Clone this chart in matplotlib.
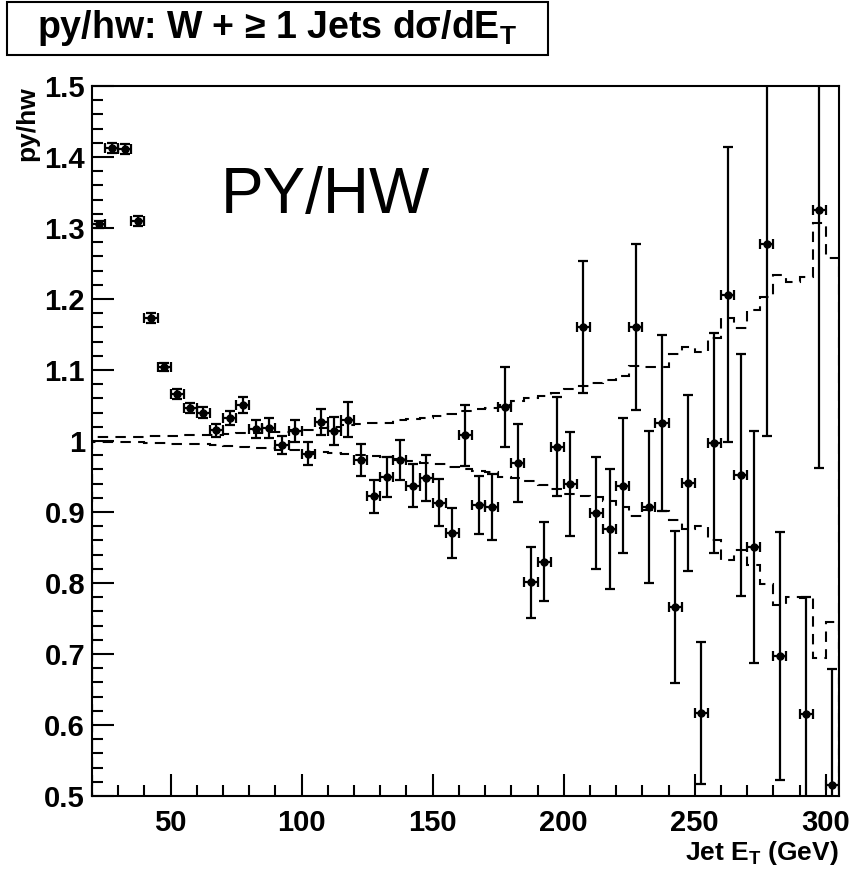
import numpy as np
import matplotlib.pyplot as plt
from matplotlib.patches import Rectangle
from matplotlib.ticker import MultipleLocator, FuncFormatter

plt.rcParams['font.family'] = ['Liberation Sans', 'DejaVu Sans']
plt.rcParams['font.weight'] = 'bold'
plt.rcParams['mathtext.fontset'] = 'custom'
plt.rcParams['mathtext.rm'] = 'Liberation Sans:bold'
plt.rcParams['mathtext.bf'] = 'Liberation Sans:bold'
plt.rcParams['mathtext.default'] = 'bf'

# jet Et bins, 5 GeV wide, from 20 to 305
bin_lo = list(range(20, 305, 5))

# py/hw ratio per bin (nan = empty bin)
ratio = [1.305, 1.413, 1.411, 1.310, 1.173, 1.104, 1.066, 1.046, 1.040, 1.015,
         1.032, 1.051, 1.017, 1.018, 0.994, 1.014, 0.982, 1.027, 1.014, 1.030,
         0.973, 0.922, 0.949, 0.973, 0.937, 0.948, 0.913, 0.870, 1.008, 0.910,
         0.907, 1.048, 0.969, 0.801, 0.830, 0.992, 0.939, 1.160, 0.899, 0.876,
         0.937, 1.160, 0.907, 1.025, 0.766, 0.941, 0.617, 0.997, 1.206, 0.952,
         0.851, 1.277, 0.697, np.nan, 0.615, 1.325, 0.515]
ratio_err = [0.005, 0.007, 0.007, 0.007, 0.007, 0.006, 0.007, 0.007, 0.008, 0.009,
             0.010, 0.011, 0.013, 0.014, 0.013, 0.016, 0.016, 0.018, 0.020, 0.025,
             0.023, 0.023, 0.028, 0.028, 0.030, 0.032, 0.033, 0.035, 0.043, 0.041,
             0.047, 0.056, 0.055, 0.050, 0.056, 0.070, 0.073, 0.093, 0.079, 0.084,
             0.095, 0.117, 0.107, 0.124, 0.107, 0.124, 0.100, 0.155, 0.208, 0.170,
             0.163, 0.270, 0.175, np.nan, 0.165, 0.363, 0.164]

# dashed envelopes (step histograms)
upper = [1.006, 1.006, 1.006, 1.006, 1.007, 1.007, 1.007, 1.008, 1.008, 1.009,
         1.010, 1.011, 1.011, 1.012, 1.013, 1.015, 1.016, 1.018, 1.020, 1.022,
         1.024, 1.025, 1.026, 1.029, 1.031, 1.033, 1.035, 1.038, 1.042, 1.045,
         1.046, 1.050, 1.056, 1.060, 1.064, 1.068, 1.073, 1.078, 1.082, 1.086,
         1.092, 1.105, 1.104, 1.104, 1.122, 1.132, 1.126, 1.145, 1.173, 1.159,
         1.185, 1.203, 1.234, 1.224, 1.231, 1.307, 1.258]
lower = [0.999, 0.999, 0.998, 0.998, 0.997, 0.997, 0.996, 0.996, 0.996, 0.995,
         0.993, 0.991, 0.990, 0.990, 0.988, 0.987, 0.985, 0.985, 0.983, 0.982,
         0.980, 0.979, 0.977, 0.974, 0.972, 0.969, 0.967, 0.964, 0.961, 0.958,
         0.957, 0.949, 0.948, 0.944, 0.938, 0.933, 0.926, 0.922, 0.921, 0.915,
         0.907, 0.894, 0.903, 0.902, 0.889, 0.876, 0.880, 0.861, 0.832, 0.846,
         0.825, 0.798, 0.769, 0.780, 0.779, 0.694, 0.745]

width = 5
edges = np.append(bin_lo, bin_lo[-1] + width)
centers = np.array(bin_lo) + width / 2

fig = plt.figure(figsize=(8.56, 8.73), dpi=100)
ax = fig.add_axes([0.1075, 0.0882, 0.8725, 0.8133])

ax.stairs(upper, edges, color='black', linestyle=(0, (5, 3.5)), linewidth=1.5)
ax.stairs(lower, edges, color='black', linestyle=(0, (5, 3.5)), linewidth=1.5)

ax.errorbar(centers, ratio, yerr=ratio_err, xerr=width / 2, fmt='o', color='black',
            markersize=5, elinewidth=1.6, capsize=3.5, capthick=1.6)

ax.set_xlim(20, 305)
ax.set_ylim(0.5, 1.5)
ax.xaxis.set_major_locator(MultipleLocator(50))
ax.xaxis.set_minor_locator(MultipleLocator(10))
ax.yaxis.set_major_locator(MultipleLocator(0.1))
ax.yaxis.set_minor_locator(MultipleLocator(0.02))
ax.yaxis.set_major_formatter(FuncFormatter(lambda v, p: f"{v:g}"))
ax.tick_params(which='both', direction='in', top=False, right=False, width=1.5)
ax.tick_params(which='major', length=16, labelsize=21)
ax.tick_params(which='minor', length=8)
ax.tick_params(axis='x', pad=9)
ax.tick_params(axis='y', pad=5)
for s in ax.spines.values():
    s.set_linewidth(1.5)

ax.set_xlabel(r"Jet $E_T$ (GeV)", fontsize=19, fontweight='bold', loc='right', labelpad=2)
ax.set_ylabel("py/hw", fontsize=19, fontweight='bold', loc='top', labelpad=4)

ax.text(69, 1.321, "PY/HW", fontsize=46, fontweight='normal', color='black')

fig.patches.append(Rectangle((0.0082, 0.937), 0.632, 0.0607, transform=fig.transFigure,
                             facecolor='white', edgecolor='black', linewidth=1.5))
fig.text(0.324, 0.968, "py/hw: W + \u2265 1 Jets d\u03c3/d$E_T$", fontsize=27,
         fontweight='bold', ha='center', va='center')

fig.savefig('out.png', dpi=100)
